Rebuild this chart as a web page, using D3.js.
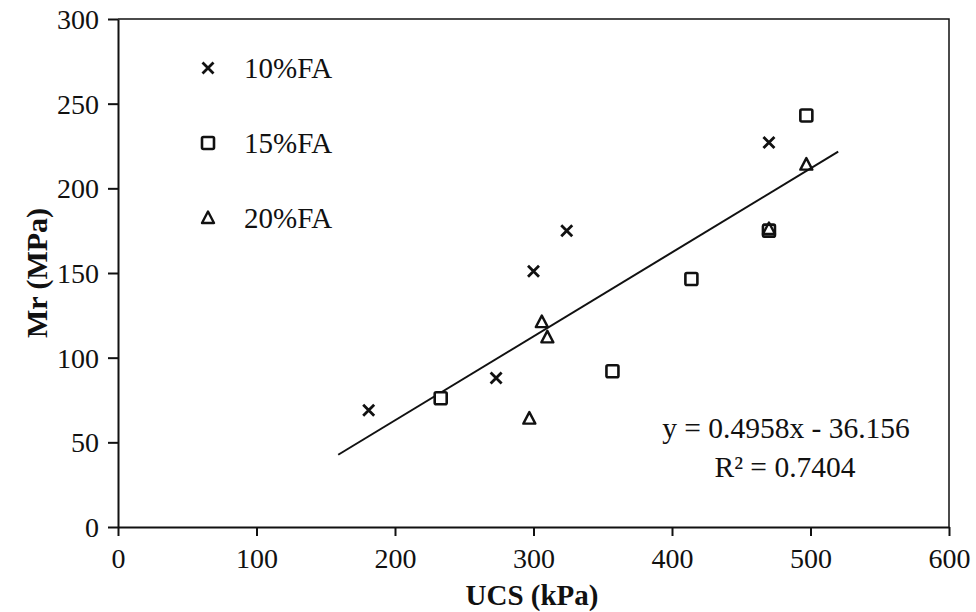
<!DOCTYPE html>
<html lang='en'>
	<head>
		<meta charset='utf-8'>
		<title>Mr vs UCS</title>
		<script type='text/javascript' src='https://d3js.org/d3.v7.min.js'></script>
		<style type='text/css'>
			body { margin: 0; background: white; }
			text { font-family: 'Liberation Serif', 'Times New Roman', serif; fill: #111; }
			.axis text { font-size: 28px; }
			.axis path, .axis line { stroke: #111; stroke-width: 2; }
		</style>
	</head>
	<body>
		<script type='text/javascript'>
			// values
			var series = ['10%FA', '15%FA', '20%FA'];
			var ucs10 = [181, 273, 300, 324, 470];
			var mr10 = [69, 88, 151, 175, 227];
			var ucs15 = [233, 357, 414, 470, 497];
			var mr15 = [76, 92, 146.5, 175, 243];
			var ucs20 = [297, 306, 310, 470, 497];
			var mr20 = [64, 121, 112, 176, 214];
			var xTicks = [0, 100, 200, 300, 400, 500, 600];
			var yTicks = [0, 50, 100, 150, 200, 250, 300];
			var slope = 0.4958, intercept = -36.156;
			var fitRange = [159, 520];

			var w = 976, h = 612;
			var padL = 118, padR = 949, padT = 19, padB = 527;

			var svg = d3.select('body')
				.append('svg')
				.attr('width', w)
				.attr('height', h);

			var xScale = d3.scaleLinear().domain([0, 600]).range([padL, padR]);
			var yScale = d3.scaleLinear().domain([0, 300]).range([padB, padT]);

			// frame (top and right)
			svg.append('path')
				.attr('d', 'M' + padL + ',' + padT + 'H' + padR + 'V' + padB)
				.attr('fill', 'none')
				.attr('stroke', '#111')
				.attr('stroke-width', 1.5);

			var xAxis = d3.axisBottom(xScale).tickValues(xTicks).tickSize(9).tickSizeOuter(0);
			var yAxis = d3.axisLeft(yScale).tickValues(yTicks).tickSize(10).tickSizeOuter(0);

			svg.append('g')
				.attr('class', 'axis')
				.attr('transform', 'translate(0,' + padB + ')')
				.call(xAxis)
				.selectAll('text').attr('dy', 0).attr('y', 41);

			svg.append('g')
				.attr('class', 'axis')
				.attr('transform', 'translate(' + padL + ',0)')
				.call(yAxis)
				.selectAll('text').attr('x', -19).attr('dy', '0.34em');

			// axis titles
			svg.append('text')
				.attr('x', 532)
				.attr('y', 605)
				.attr('text-anchor', 'middle')
				.style('font-size', '29px')
				.style('font-weight', 'bold')
				.text('UCS (kPa)');

			svg.append('text')
				.attr('transform', 'translate(47,' + yScale(150) + ') rotate(-90)')
				.attr('text-anchor', 'middle')
				.style('font-size', '30px')
				.style('font-weight', 'bold')
				.text('Mr (MPa)');

			// markers
			function drawMarker(g, type) {
				if (type === 0) {
					g.append('path').attr('d', 'M-5.5,-5.5L5.5,5.5M-5.5,5.5L5.5,-5.5')
						.attr('stroke', '#111').attr('stroke-width', 2.8).attr('fill', 'none');
				} else if (type === 1) {
					g.append('rect').attr('x', -6).attr('y', -6).attr('width', 12).attr('height', 12)
						.attr('rx', 1.5)
						.attr('stroke', '#111').attr('stroke-width', 2.6).attr('fill', 'white');
				} else {
					g.append('path').attr('d', 'M0,-6.5L6,5L-6,5Z')
						.attr('stroke', '#111').attr('stroke-width', 2.4).attr('fill', 'none')
						.attr('stroke-linejoin', 'round');
				}
			}

			// trend line
			svg.append('line')
				.attr('x1', xScale(fitRange[0]))
				.attr('y1', yScale(slope * fitRange[0] + intercept))
				.attr('x2', xScale(fitRange[1]))
				.attr('y2', yScale(slope * fitRange[1] + intercept))
				.attr('stroke', '#111')
				.attr('stroke-width', 2);

			var xs = [ucs10, ucs15, ucs20];
			var ys = [mr10, mr15, mr20];
			[1, 0, 2].forEach(function(s) {
				svg.append('g').selectAll('g')
					.data(d3.range(xs[s].length))
					.enter()
					.append('g')
					.attr('transform', function(i) {
						return 'translate(' + xScale(xs[s][i]) + ',' + yScale(ys[s][i]) + ')';
					})
					.each(function() { drawMarker(d3.select(this), s); });
			});

			// legend
			var legend = svg.append('g');
			series.forEach(function(name, i) {
				var y = 68 + i * 75;
				drawMarker(legend.append('g').attr('transform', 'translate(208,' + y + ')'), i);
				legend.append('text')
					.attr('x', 244)
					.attr('y', y)
					.attr('dy', '0.34em')
					.style('font-size', '29px')
					.text(name);
			});

			// equation
			svg.append('text')
				.attr('x', 786).attr('y', 438)
				.attr('text-anchor', 'middle')
				.style('font-size', '29.5px')
				.text('y = 0.4958x - 36.156');
			svg.append('text')
				.attr('x', 785).attr('y', 477)
				.attr('text-anchor', 'middle')
				.style('font-size', '29.5px')
				.text('R² = 0.7404');
		</script>
	</body>
</html>
